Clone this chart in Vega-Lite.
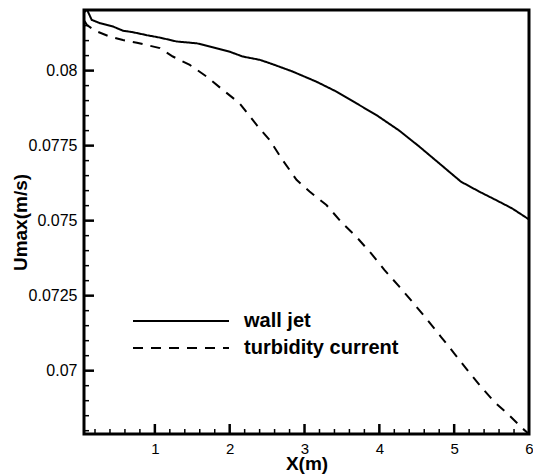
{
  "$schema": "https://vega.github.io/schema/vega-lite/v6.json",
  "width": 445,
  "height": 424,
  "autosize": {"type": "none"},
  "padding": {"left": 84, "top": 10, "right": 4, "bottom": 40},
  "config": {
    "view": {"stroke": "black", "strokeWidth": 3},
    "font": "Liberation Sans",
    "background": "white",
    "axisX": {
      "labelExpr": "format(datum.value, 'd')",
      "ticks": false,
      "domain": false,
      "grid": false,
      "labelFontSize": 15,
      "labelColor": "black",
      "labelPadding": 7,
      "labelFlush": false,
      "labelOverlap": false,
      "titleFontSize": 19,
      "titleFontWeight": "bold",
      "titleColor": "black",
      "titlePadding": -2
    },
    "axisY": {
      "labelExpr": "format(datum.value, '.4~f')",
      "ticks": false,
      "domain": false,
      "grid": false,
      "labelFontSize": 16,
      "labelColor": "black",
      "labelPadding": 7,
      "labelFlush": false,
      "labelOverlap": false,
      "titleFontSize": 19,
      "titleFontWeight": "bold",
      "titleColor": "black",
      "titlePadding": -2
    }
  },
  "datasets": {
    "curves": [
      {"series": "wall jet", "x": 0.06, "u": 0.08195},
      {"series": "wall jet", "x": 0.09, "u": 0.08205},
      {"series": "wall jet", "x": 0.156, "u": 0.08169},
      {"series": "wall jet", "x": 0.267, "u": 0.08158},
      {"series": "wall jet", "x": 0.44, "u": 0.08147},
      {"series": "wall jet", "x": 0.573, "u": 0.08133},
      {"series": "wall jet", "x": 0.707, "u": 0.08128},
      {"series": "wall jet", "x": 0.893, "u": 0.08118},
      {"series": "wall jet", "x": 1.067, "u": 0.0811},
      {"series": "wall jet", "x": 1.293, "u": 0.08097},
      {"series": "wall jet", "x": 1.56, "u": 0.08091},
      {"series": "wall jet", "x": 1.773, "u": 0.08078},
      {"series": "wall jet", "x": 2.0, "u": 0.08063},
      {"series": "wall jet", "x": 2.173, "u": 0.08047},
      {"series": "wall jet", "x": 2.4, "u": 0.08036},
      {"series": "wall jet", "x": 2.533, "u": 0.08025},
      {"series": "wall jet", "x": 2.84, "u": 0.07997},
      {"series": "wall jet", "x": 3.16, "u": 0.07963},
      {"series": "wall jet", "x": 3.427, "u": 0.0793},
      {"series": "wall jet", "x": 3.693, "u": 0.07891},
      {"series": "wall jet", "x": 3.96, "u": 0.07852},
      {"series": "wall jet", "x": 4.267, "u": 0.078},
      {"series": "wall jet", "x": 4.533, "u": 0.07747},
      {"series": "wall jet", "x": 4.8, "u": 0.07691},
      {"series": "wall jet", "x": 5.09, "u": 0.0763},
      {"series": "wall jet", "x": 5.333, "u": 0.07597},
      {"series": "wall jet", "x": 5.556, "u": 0.07569},
      {"series": "wall jet", "x": 5.773, "u": 0.07541},
      {"series": "wall jet", "x": 6.0, "u": 0.07504},
      {"series": "turbidity current", "x": 0.06, "u": 0.08165},
      {"series": "turbidity current", "x": 0.093, "u": 0.08152},
      {"series": "turbidity current", "x": 0.2, "u": 0.08133},
      {"series": "turbidity current", "x": 0.4, "u": 0.08113},
      {"series": "turbidity current", "x": 0.573, "u": 0.08102},
      {"series": "turbidity current", "x": 0.76, "u": 0.08093},
      {"series": "turbidity current", "x": 1.067, "u": 0.08075},
      {"series": "turbidity current", "x": 1.24, "u": 0.08047},
      {"series": "turbidity current", "x": 1.467, "u": 0.08019},
      {"series": "turbidity current", "x": 1.693, "u": 0.0798},
      {"series": "turbidity current", "x": 1.907, "u": 0.07936},
      {"series": "turbidity current", "x": 2.133, "u": 0.07891},
      {"series": "turbidity current", "x": 2.36, "u": 0.07819},
      {"series": "turbidity current", "x": 2.533, "u": 0.07769},
      {"series": "turbidity current", "x": 2.707, "u": 0.07702},
      {"series": "turbidity current", "x": 2.893, "u": 0.07636},
      {"series": "turbidity current", "x": 3.067, "u": 0.07597},
      {"series": "turbidity current", "x": 3.293, "u": 0.07552},
      {"series": "turbidity current", "x": 3.507, "u": 0.07491},
      {"series": "turbidity current", "x": 3.69, "u": 0.07447},
      {"series": "turbidity current", "x": 3.89, "u": 0.07391},
      {"series": "turbidity current", "x": 4.067, "u": 0.07336},
      {"series": "turbidity current", "x": 4.267, "u": 0.0728},
      {"series": "turbidity current", "x": 4.44, "u": 0.0723},
      {"series": "turbidity current", "x": 4.623, "u": 0.07175},
      {"series": "turbidity current", "x": 4.823, "u": 0.07113},
      {"series": "turbidity current", "x": 5.0, "u": 0.07058},
      {"series": "turbidity current", "x": 5.177, "u": 0.07002},
      {"series": "turbidity current", "x": 5.356, "u": 0.06947},
      {"series": "turbidity current", "x": 5.533, "u": 0.06897},
      {"series": "turbidity current", "x": 5.733, "u": 0.06852},
      {"series": "turbidity current", "x": 5.911, "u": 0.06808},
      {"series": "turbidity current", "x": 6.0, "u": 0.06789}
    ],
    "ticks": [
      {"axis": "x", "kind": "major", "v": 1},
      {"axis": "x", "kind": "major", "v": 2},
      {"axis": "x", "kind": "major", "v": 3},
      {"axis": "x", "kind": "major", "v": 4},
      {"axis": "x", "kind": "major", "v": 5},
      {"axis": "x", "kind": "minor", "v": 0.2},
      {"axis": "x", "kind": "minor", "v": 0.4},
      {"axis": "x", "kind": "minor", "v": 0.6},
      {"axis": "x", "kind": "minor", "v": 0.8},
      {"axis": "x", "kind": "minor", "v": 1.2},
      {"axis": "x", "kind": "minor", "v": 1.4},
      {"axis": "x", "kind": "minor", "v": 1.6},
      {"axis": "x", "kind": "minor", "v": 1.8},
      {"axis": "x", "kind": "minor", "v": 2.2},
      {"axis": "x", "kind": "minor", "v": 2.4},
      {"axis": "x", "kind": "minor", "v": 2.6},
      {"axis": "x", "kind": "minor", "v": 2.8},
      {"axis": "x", "kind": "minor", "v": 3.2},
      {"axis": "x", "kind": "minor", "v": 3.4},
      {"axis": "x", "kind": "minor", "v": 3.6},
      {"axis": "x", "kind": "minor", "v": 3.8},
      {"axis": "x", "kind": "minor", "v": 4.2},
      {"axis": "x", "kind": "minor", "v": 4.4},
      {"axis": "x", "kind": "minor", "v": 4.6},
      {"axis": "x", "kind": "minor", "v": 4.8},
      {"axis": "x", "kind": "minor", "v": 5.2},
      {"axis": "x", "kind": "minor", "v": 5.4},
      {"axis": "x", "kind": "minor", "v": 5.6},
      {"axis": "x", "kind": "minor", "v": 5.8},
      {"axis": "y", "kind": "major", "v": 0.07},
      {"axis": "y", "kind": "major", "v": 0.0725},
      {"axis": "y", "kind": "major", "v": 0.075},
      {"axis": "y", "kind": "major", "v": 0.0775},
      {"axis": "y", "kind": "major", "v": 0.08},
      {"axis": "y", "kind": "minor", "v": 0.068},
      {"axis": "y", "kind": "minor", "v": 0.0685},
      {"axis": "y", "kind": "minor", "v": 0.069},
      {"axis": "y", "kind": "minor", "v": 0.0695},
      {"axis": "y", "kind": "minor", "v": 0.0705},
      {"axis": "y", "kind": "minor", "v": 0.071},
      {"axis": "y", "kind": "minor", "v": 0.0715},
      {"axis": "y", "kind": "minor", "v": 0.072},
      {"axis": "y", "kind": "minor", "v": 0.073},
      {"axis": "y", "kind": "minor", "v": 0.0735},
      {"axis": "y", "kind": "minor", "v": 0.074},
      {"axis": "y", "kind": "minor", "v": 0.0745},
      {"axis": "y", "kind": "minor", "v": 0.0755},
      {"axis": "y", "kind": "minor", "v": 0.076},
      {"axis": "y", "kind": "minor", "v": 0.0765},
      {"axis": "y", "kind": "minor", "v": 0.077},
      {"axis": "y", "kind": "minor", "v": 0.078},
      {"axis": "y", "kind": "minor", "v": 0.0785},
      {"axis": "y", "kind": "minor", "v": 0.079},
      {"axis": "y", "kind": "minor", "v": 0.0795},
      {"axis": "y", "kind": "minor", "v": 0.0805},
      {"axis": "y", "kind": "minor", "v": 0.081},
      {"axis": "y", "kind": "minor", "v": 0.0815}
    ]
  },
  "layer": [
    {
      "data": {"name": "curves"},
      "transform": [{"filter": "datum.series == 'wall jet'"}],
      "mark": {"type": "line", "strokeWidth": 2, "clip": true, "color": "black"},
      "encoding": {
        "x": {"field": "x", "type": "quantitative", "scale": {"domain": [0.053, 6], "nice": false, "zero": false}, "title": "X(m)", "axis": {"values": [1, 2, 3, 4, 5, 6]}},
        "y": {"field": "u", "type": "quantitative", "scale": {"domain": [0.06789, 0.08202], "nice": false, "zero": false}, "title": "Umax(m/s)", "axis": {"values": [0.07, 0.0725, 0.075, 0.0775, 0.08]}},
        "strokeDash": {
          "field": "series",
          "type": "nominal",
          "scale": {"domain": ["wall jet", "turbidity current"], "range": [[1, 0], [10, 8]]},
          "legend": {
            "title": null,
            "orient": "none",
            "legendX": 48,
            "legendY": 294,
            "padding": 0,
            "rowPadding": -3,
            "symbolType": "M-1,0H5",
            "symbolSize": 1024,
            "symbolStrokeWidth": 2,
            "symbolStrokeColor": "black",
            "symbolFillColor": "black",
            "labelFont": "Liberation Sans",
            "labelFontSize": 20,
            "labelFontWeight": "bold",
            "labelColor": "black",
            "labelOffset": 78,
            "labelLimit": 400
          }
        }
      }
    },
    {
      "data": {"name": "curves"},
      "transform": [{"filter": "datum.series == 'turbidity current'"}],
      "mark": {"type": "line", "strokeWidth": 2, "clip": true, "color": "black"},
      "encoding": {
        "x": {"field": "x", "type": "quantitative", "scale": {"domain": [0.053, 6], "nice": false, "zero": false}, "title": "X(m)", "axis": {"values": [1, 2, 3, 4, 5, 6]}},
        "y": {"field": "u", "type": "quantitative", "scale": {"domain": [0.06789, 0.08202], "nice": false, "zero": false}, "title": "Umax(m/s)", "axis": {"values": [0.07, 0.0725, 0.075, 0.0775, 0.08]}},
        "strokeDash": {
          "field": "series",
          "type": "nominal",
          "scale": {"domain": ["wall jet", "turbidity current"], "range": [[1, 0], [10, 8]]}
        }
      }
    },
    {
      "data": {"name": "ticks"},
      "transform": [{"filter": "datum.axis == 'x' && datum.kind == 'major'"}],
      "mark": {"type": "tick", "orient": "vertical", "size": 20, "thickness": 2.5, "color": "black", "opacity": 1, "clip": true},
      "encoding": {
        "x": {"field": "v", "type": "quantitative", "scale": {"domain": [0.053, 6], "nice": false, "zero": false}, "title": "X(m)", "axis": {"values": [1, 2, 3, 4, 5, 6]}},
        "y": {"datum": 0.06789, "type": "quantitative", "scale": {"domain": [0.06789, 0.08202], "nice": false, "zero": false}, "title": "Umax(m/s)", "axis": {"values": [0.07, 0.0725, 0.075, 0.0775, 0.08]}}
      }
    },
    {
      "data": {"name": "ticks"},
      "transform": [{"filter": "datum.axis == 'x' && datum.kind == 'minor'"}],
      "mark": {"type": "tick", "orient": "vertical", "size": 10, "thickness": 1.5, "color": "black", "opacity": 1, "clip": true},
      "encoding": {
        "x": {"field": "v", "type": "quantitative", "scale": {"domain": [0.053, 6], "nice": false, "zero": false}, "title": "X(m)", "axis": {"values": [1, 2, 3, 4, 5, 6]}},
        "y": {"datum": 0.06789, "type": "quantitative", "scale": {"domain": [0.06789, 0.08202], "nice": false, "zero": false}, "title": "Umax(m/s)", "axis": {"values": [0.07, 0.0725, 0.075, 0.0775, 0.08]}}
      }
    },
    {
      "data": {"name": "ticks"},
      "transform": [{"filter": "datum.axis == 'y' && datum.kind == 'major'"}],
      "mark": {"type": "tick", "orient": "horizontal", "size": 20, "thickness": 2.5, "color": "black", "opacity": 1, "clip": true},
      "encoding": {
        "y": {"field": "v", "type": "quantitative", "scale": {"domain": [0.06789, 0.08202], "nice": false, "zero": false}, "title": "Umax(m/s)", "axis": {"values": [0.07, 0.0725, 0.075, 0.0775, 0.08]}},
        "x": {"datum": 0.053, "type": "quantitative", "scale": {"domain": [0.053, 6], "nice": false, "zero": false}, "title": "X(m)", "axis": {"values": [1, 2, 3, 4, 5, 6]}}
      }
    },
    {
      "data": {"name": "ticks"},
      "transform": [{"filter": "datum.axis == 'y' && datum.kind == 'minor'"}],
      "mark": {"type": "tick", "orient": "horizontal", "size": 10, "thickness": 1.5, "color": "black", "opacity": 1, "clip": true},
      "encoding": {
        "y": {"field": "v", "type": "quantitative", "scale": {"domain": [0.06789, 0.08202], "nice": false, "zero": false}, "title": "Umax(m/s)", "axis": {"values": [0.07, 0.0725, 0.075, 0.0775, 0.08]}},
        "x": {"datum": 0.053, "type": "quantitative", "scale": {"domain": [0.053, 6], "nice": false, "zero": false}, "title": "X(m)", "axis": {"values": [1, 2, 3, 4, 5, 6]}}
      }
    }
  ]
}
